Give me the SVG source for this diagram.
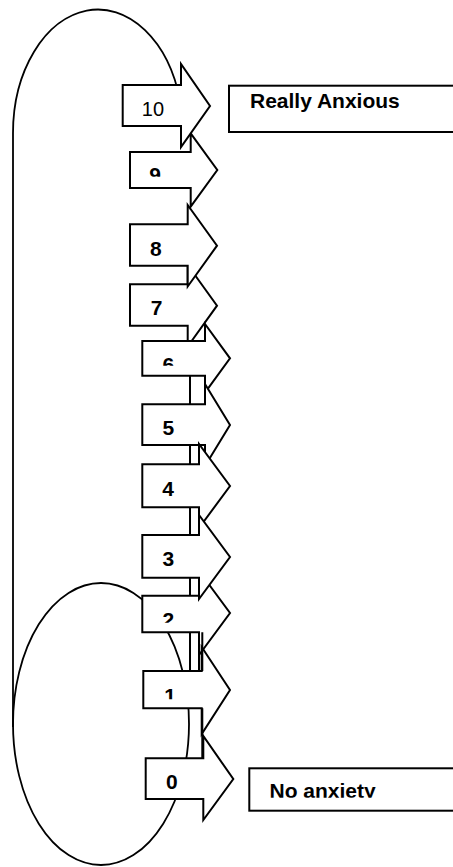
<svg xmlns="http://www.w3.org/2000/svg" width="453" height="867" viewBox="0 0 453 867">
<style>
.ln{fill:none;stroke:#000;stroke-width:1.8}
.ar{fill:#fff;stroke:#000;stroke-width:2;stroke-linejoin:miter}
.bx{fill:#fff;stroke:#000;stroke-width:2}
.t{font-family:"Liberation Sans",Arial,sans-serif;font-size:21px;font-weight:bold;fill:#000}
.tr{font-family:"Liberation Sans",Arial,sans-serif;font-size:20px;fill:#000}
.g{fill:none;stroke:#000;stroke-width:2}
</style>
<defs>
<clipPath id="c9"><rect x="140" y="150" width="40" height="26.7"/></clipPath>
<clipPath id="c6"><rect x="150" y="340" width="40" height="25.7"/></clipPath>
<clipPath id="c2"><rect x="150" y="595" width="40" height="27.7"/></clipPath>
<clipPath id="c1"><rect x="150" y="670" width="40" height="29.3"/></clipPath>
<clipPath id="cN"><rect x="250" y="768" width="203" height="29.7"/></clipPath>
</defs>
<g id="connectors">
<path class="ln" d="M13,727 L13,133 A85,123.5 0 0 1 180,100.5"/>
<ellipse class="ln" cx="101" cy="724" rx="88" ry="141"/>
</g>
<g id="n7"><polygon class="ar" points="130,284.3 187.7,284.3 187.7,265 217,305.7 187.7,346.5 187.7,325.7 130,325.7"/><text class="t" x="150.7" y="315">7</text></g>
<g id="n8"><polygon class="ar" points="130,224.3 187.7,224.3 187.7,205 217,245.7 187.7,286.5 187.7,265.7 130,265.7"/><text class="t" x="149.9" y="255.7">8</text></g>
<g id="n9"><polygon class="ar" points="130,152 190.7,152 190.7,133.3 217.3,170 190.7,206.7 190.7,188 130,188"/><text class="t" x="149.2" y="181.7" clip-path="url(#c9)">9</text></g>
<g id="n10"><polygon class="ar" points="122.7,85 181,85 181,64 210,106 181,147 181,126 122.7,126"/><text class="tr" x="141.8" y="116">10</text></g>
<g id="n6"><polygon class="ar" points="142.3,341 205,341 205,324 230,358.3 205,392.7 205,375.7 142.3,375.7"/><text class="t" x="162.5" y="371.7" clip-path="url(#c6)">6</text></g>
<g id="n5"><polygon class="ar" points="142.3,404.3 205,404.3 205,384 230,425 205,466 205,445 142.3,445"/><text class="t" x="162.5" y="435">5</text></g>
<g id="n4"><polygon class="ar" points="142.3,464.3 199,464.3 199,444 230,486 199,528 199,507.3 142.3,507.3"/><text class="t" x="162.3" y="496">4</text></g>
<g id="n2"><polygon class="ar" points="142.3,595.7 199,595.7 199,571 230,613 199,655 199,632.3 142.3,632.3"/><text class="t" x="162.5" y="626.7" clip-path="url(#c2)">2</text></g>
<g id="n3"><polygon class="ar" points="142.3,535 199,535 199,515 230,557 199,599 199,577.7 142.3,577.7"/><text class="t" x="162.5" y="566">3</text></g>
<g id="n1"><polygon class="ar" points="143.3,671 201.7,671 201.7,647 230,690 201.7,734 201.7,708.3 143.3,708.3"/><text class="t" x="164.2" y="703.3" clip-path="url(#c1)">1</text></g>
<g id="n0"><polygon class="ar" points="145.7,758.3 203.3,758.3 203.3,736 233.3,779 203.3,820 203.3,799 145.7,799"/><text class="t" x="165.9" y="789.3">0</text></g>
<g id="gaps">
<path class="g" d="M190,375.7V404.3M190,445V464.3M199,445V464.3M190,507.3V535M199,507.3V535M190,577.7V595.7M199,577.7V595.7M190,632.3V671M199,632.3V671M202.3,632.3V671M202.3,708.3V758.3"/>
</g>
<g id="really">
<rect class="bx" x="229" y="85.7" width="240" height="46.3"/>
<text class="t" x="250" y="108.3">Really Anxious</text>
</g>
<g id="none">
<rect class="bx" x="249.3" y="768.3" width="220" height="42.4"/>
<text class="t" x="269.5" y="798.3" clip-path="url(#cN)">No anxiety</text>
</g>
</svg>
